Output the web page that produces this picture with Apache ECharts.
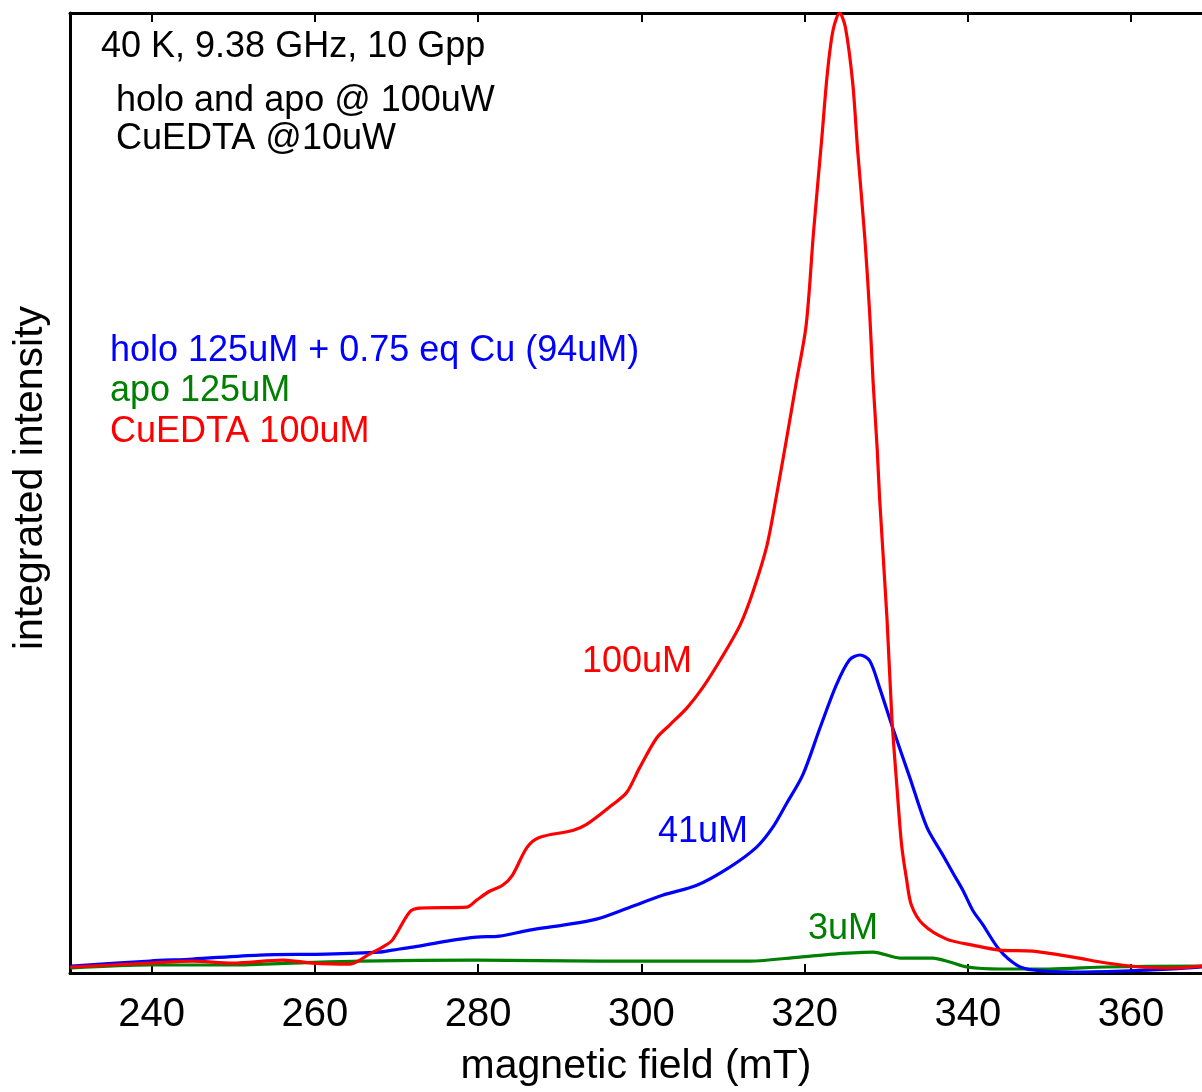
<!DOCTYPE html>
<html>
<head>
<meta charset="utf-8">
<title>EPR integrated intensity</title>
<script src="https://cdn.jsdelivr.net/npm/echarts@6/dist/echarts.min.js"></script>
<style>
  html, body { margin: 0; padding: 0; background: #fff; }
  #chart { width: 1202px; height: 1092px; }
</style>
</head>
<body>
<div id="chart"></div>
<script>
// Magnetic field axis ticks (mT)
const fieldTicks = [240, 260, 280, 300, 320, 340, 360];

// CuEDTA 100uM (red) — field (mT) and integrated intensity (arb. units)
const cuedtaField = [230.2, 239.8, 245.0, 249.9, 256.1, 259.7, 264.3, 266.7, 268.3, 269.5, 271.6, 272.8,
  278.6, 279.8, 281.4, 283.0, 284.2, 286.0, 287.5, 291.6, 293.3, 296.5, 298.2, 299.8, 301.9, 303.5,
  305.6, 307.5, 309.6, 312.1, 313.7, 315.4, 316.5, 317.8, 319.0, 320.2, 321.1, 322.1, 322.8, 323.5,
  324.3, 325.0, 325.9, 326.5, 327.4, 328.0, 328.4, 328.9, 329.2, 330.1, 330.7, 331.3, 331.9, 332.5,
  333.1, 334.5, 337.4, 340.6, 343.9, 348.0, 352.9, 357.0, 361.1, 365.1, 368.7];
const cuedtaIntensity = [6, 10, 12, 10, 13, 10, 9, 19, 26, 33, 61, 65,
  66, 73, 82, 88, 98, 126, 136, 143, 149, 169, 181, 206, 236, 249,
  266, 286, 313, 349, 383, 429, 476, 536, 593, 650, 743, 836, 903, 946,
  963, 949, 893, 826, 736, 659, 593, 526, 476, 356, 256, 189, 128, 94,
  68, 49, 34, 28, 23, 22, 16, 10, 6, 5, 7];

// holo 125uM + 0.75 eq Cu (blue)
const holoField = [230.2, 239.8, 245.0, 253.2, 261.4, 267.9, 269.5, 272.0, 276.2, 279.8, 282.6, 286.3,
  290.4, 294.5, 298.6, 302.6, 306.8, 310.8, 314.1, 316.1, 317.8, 319.8, 321.9, 323.9, 325.5, 326.8,
  328.0, 329.2, 330.8, 332.9, 335.0, 336.9, 338.2, 339.4, 340.6, 341.8, 343.9, 346.0, 348.0, 352.9,
  359.0, 365.1, 368.7];
const holoIntensity = [7, 12, 14, 18, 19, 21, 23, 26, 32, 36, 37, 43,
  48, 54, 66, 78, 88, 106, 126, 146, 170, 199, 246, 289, 314, 319,
  313, 286, 246, 196, 146, 119, 100, 83, 63, 49, 23, 8, 3, 1,
  2, 4, 6];

// apo 125uM (green)
const apoField = [230.2, 239.8, 249.2, 257.3, 265.5, 279.8, 294.9, 308.8, 313.3, 319.4, 323.5, 328.4,
  331.7, 335.7, 337.8, 339.9, 343.9, 350.0, 357.0, 368.7];
const apoIntensity = [5, 8, 8, 10, 12, 13, 12, 12, 12, 16, 19, 21,
  15, 15, 11, 6, 4, 4, 6, 7];

const pairs = (xs, ys) => xs.map((x, i) => [x, ys[i]]);

const FONT = '"Liberation Sans", Arial, Helvetica, sans-serif';
const RED = '#ff0000', BLUE = '#0000ff', GREEN = '#008000';

const chart = echarts.init(document.getElementById('chart'), null, { renderer: 'canvas' });

const lineSeries = (name, data, color) => ({
  name, type: 'line', data,
  xAxisIndex: 0, yAxisIndex: 0,
  showSymbol: false, smooth: 0.3,
  lineStyle: { color, width: 3.2, join: 'round', cap: 'round' },
  silent: true, animation: false
});

const txt = (text, x, y, color) => ({
  type: 'text', x, y, silent: true,
  style: { text, fill: color, font: '36px ' + FONT, verticalAlign: 'middle', align: 'left' }
});

chart.setOption({
  animation: false,
  backgroundColor: '#ffffff',
  grid: { left: 70, right: 0, top: 13, bottom: 116 },
  xAxis: [
    {
      type: 'value', position: 'bottom', min: 230, max: 368.7,
      name: 'magnetic field (mT)', nameLocation: 'middle', nameGap: 73,
      nameTextStyle: { fontFamily: FONT, fontSize: 41, color: '#000' },
      axisLine: { show: true, onZero: false, lineStyle: { color: '#000', width: 3 } },
      axisTick: { show: true, inside: true, length: 9, customValues: fieldTicks, lineStyle: { color: '#000', width: 2 } },
      axisLabel: { customValues: fieldTicks, margin: 22, fontFamily: FONT, fontSize: 40, color: '#000' },
      splitLine: { show: false }
    },
    {
      type: 'value', position: 'top', min: 230, max: 368.7,
      axisLine: { show: true, onZero: false, lineStyle: { color: '#000', width: 3 } },
      axisTick: { show: true, inside: true, length: 9, customValues: fieldTicks, lineStyle: { color: '#000', width: 2 } },
      axisLabel: { show: false },
      splitLine: { show: false }
    }
  ],
  yAxis: {
    type: 'value', min: 0, max: 963,
    axisLine: { show: true, onZero: false, lineStyle: { color: '#000', width: 3 } },
    axisTick: { show: false },
    axisLabel: { show: false },
    splitLine: { show: false }
  },
  series: [
    lineSeries('apo 125uM', pairs(apoField, apoIntensity), GREEN),
    lineSeries('holo 125uM + 0.75 eq Cu (94uM)', pairs(holoField, holoIntensity), BLUE),
    lineSeries('CuEDTA 100uM', pairs(cuedtaField, cuedtaIntensity), RED)
  ],
  graphic: [
    {
      type: 'text', x: 31, y: 478, rotation: Math.PI / 2, silent: true,
      style: { text: 'integrated intensity', fill: '#000', font: '41px ' + FONT, align: 'center', verticalAlign: 'middle' }
    },
    txt('40 K, 9.38 GHz, 10 Gpp', 101, 47, '#000'),
    txt('holo and apo @ 100uW', 116, 101, '#000'),
    txt('CuEDTA @10uW', 116, 139.5, '#000'),
    txt('holo 125uM + 0.75 eq Cu (94uM)', 110, 351, BLUE),
    txt('apo 125uM', 110, 391, GREEN),
    txt('CuEDTA 100uM', 110, 432, RED),
    txt('100uM', 582, 662, RED),
    txt('41uM', 658, 832, BLUE),
    txt('3uM', 808, 929, GREEN)
  ]
});
</script>
</body>
</html>
